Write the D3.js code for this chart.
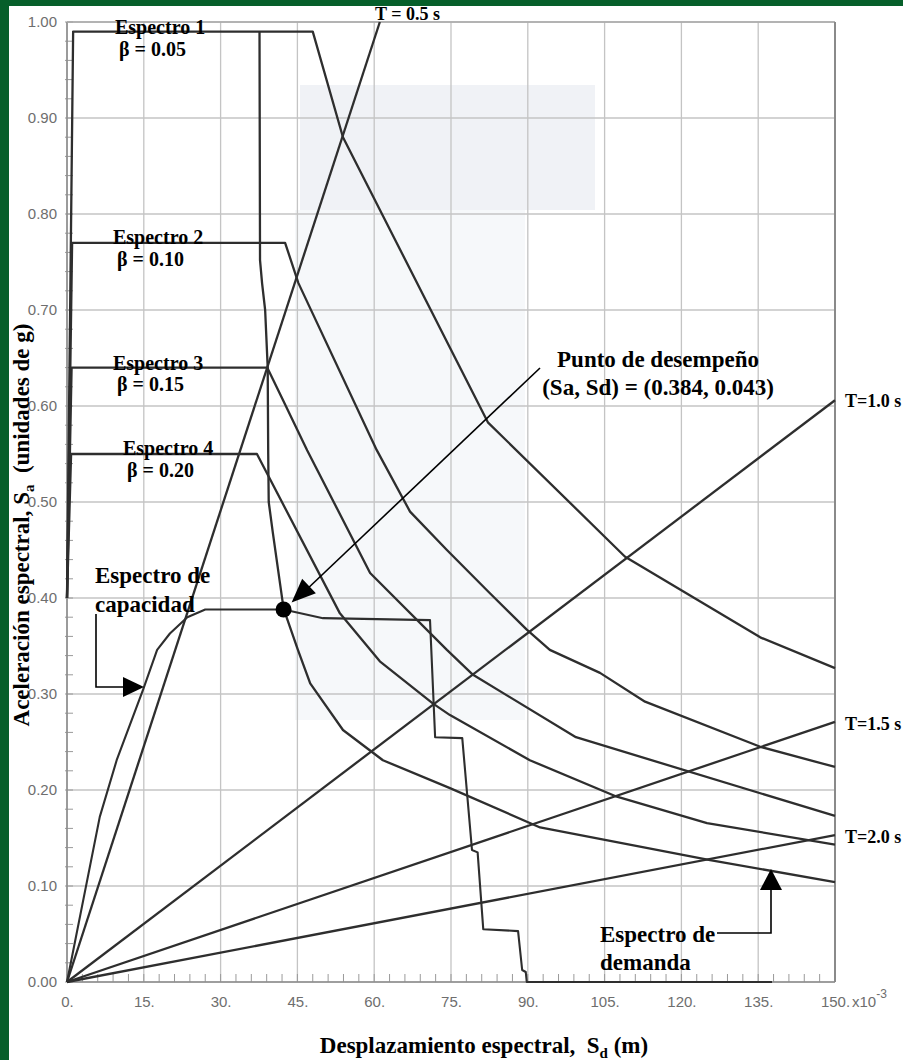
<!DOCTYPE html>
<html><head><meta charset="utf-8">
<script src="https://cdn.jsdelivr.net/npm/d3@7"></script>
<style>html,body{margin:0;padding:0;background:#fff;}svg{display:block;}</style>
</head><body>
<script>
// ---------- data ----------
const xTicks = [0, 15, 30, 45, 60, 75, 90, 105, 120, 135, 150];
const xTickLabels = ["0.", "15.", "30.", "45.", "60.", "75.", "90.", "105.", "120.", "135.", "150."];
const yTicks = [0, 0.1, 0.2, 0.3, 0.4, 0.5, 0.6, 0.7, 0.8, 0.9, 1.0];
const yTickLabels = ["0.00", "0.10", "0.20", "0.30", "0.40", "0.50", "0.60", "0.70", "0.80", "0.90", "1.00"];

// Demand spectra (Sd in 1e-3 m, Sa in g)
const espectro1 = [[0,0.40],[1.2,0.99],[48,0.99],[53.9,0.88],[82.2,0.583],[109,0.443],[135.4,0.359],[150,0.327]];
const espectro2 = [[0,0.40],[1.0,0.77],[42.6,0.77],[45.2,0.728],[60.5,0.554],[67,0.49],[74.2,0.45],[82.6,0.405],[89.8,0.367],[94.3,0.346],[104.1,0.322],[112.9,0.292],[135.4,0.245],[150,0.224]];
const espectro3 = [[0,0.40],[0.9,0.64],[39.1,0.64],[42.2,0.606],[46.9,0.554],[59.2,0.426],[74.2,0.346],[79.3,0.32],[99.4,0.255],[150,0.173]];
const espectro4 = [[0,0.40],[0.8,0.55],[37.1,0.55],[53.3,0.384],[61.1,0.334],[71.5,0.29],[74.8,0.278],[90.4,0.231],[107.4,0.193],[125,0.1656],[150,0.143]];
const espectroReducido = [[37.6,0.99],[37.7,0.752],[38.1,0.728],[38.7,0.70],[39.2,0.64],[39.3,0.55],[39.4,0.50],[40.2,0.468],[42.3,0.389],[45.1,0.346],[47.5,0.311],[53.9,0.2625],[61.7,0.231],[74.8,0.202],[92.4,0.161],[125.6,0.127],[150,0.104]];

// Capacity spectrum
const capacidad = [[0,0],[6.4,0.172],[9.7,0.231],[14.9,0.305],[17.6,0.346],[20.1,0.363],[23.5,0.38],[27,0.388],[42.3,0.388],[50,0.379],[70.9,0.377],[71.9,0.255],[77.2,0.254],[79.1,0.1375],[80.2,0.135],[81.3,0.055],[88.1,0.053],[88.9,0.0125],[89.6,0.0104],[89.8,0],[137.7,0]];

// Constant-period lines (from origin to end point)
const periodLabels = ["T = 0.5 s", "T=1.0 s", "T=1.5 s", "T=2.0 s"];
const periodEndX = [61.1, 150, 150, 150];
const periodEndY = [1.0, 0.606, 0.271, 0.153];

// Performance point
const puntoSd = 42.3, puntoSa = 0.388;

// ---------- drawing ----------
const W = 903, H = 1060;
const svg = d3.select("body").append("svg").attr("width", W).attr("height", H);
svg.append("rect").attr("width", W).attr("height", H).attr("fill", "#ffffff");
svg.append("rect").attr("x", 0).attr("y", 0).attr("width", W).attr("height", 6).attr("fill", "#065f2a");
svg.append("rect").attr("x", 0).attr("y", 0).attr("width", 9).attr("height", H).attr("fill", "#065f2a");

const x = d3.scaleLinear().domain([0, 150]).range([67, 835]);
const y = d3.scaleLinear().domain([0, 1]).range([982, 22]);

// faint scan shading
svg.append("rect").attr("x", 300).attr("y", 85).attr("width", 295).attr("height", 125).attr("fill", "#f0f2f6");
svg.append("rect").attr("x", 295).attr("y", 210).attr("width", 230).attr("height", 510).attr("fill", "#f6f8fa");

// grid
const g = svg.append("g");
g.selectAll(".vg").data(xTicks).join("line")
  .attr("x1", d => x(d)).attr("x2", d => x(d)).attr("y1", y(0)).attr("y2", y(1))
  .attr("stroke", "#c4c4c4").attr("stroke-width", 1.3);
g.selectAll(".hg").data(yTicks).join("line")
  .attr("x1", x(0)).attr("x2", x(150)).attr("y1", d => y(d)).attr("y2", d => y(d))
  .attr("stroke", "#c4c4c4").attr("stroke-width", 1.3);

// minor ticks
const yMinor = d3.range(0, 51).map(i => i * 0.02);
g.selectAll(".ym").data(yMinor).join("line")
  .attr("x1", x(0) - 2).attr("x2", x(0) + 6).attr("y1", d => y(d)).attr("y2", d => y(d))
  .attr("stroke", "#9a9a9a").attr("stroke-width", 1);
const xMinor = d3.range(0, 51).map(i => i * 3);
g.selectAll(".xm").data(xMinor).join("line")
  .attr("x1", d => x(d)).attr("x2", d => x(d)).attr("y1", y(0)).attr("y2", y(0) - 8)
  .attr("stroke", "#9a9a9a").attr("stroke-width", 1);

// frame
g.append("line").attr("x1", x(0)).attr("x2", x(0)).attr("y1", y(0)).attr("y2", y(1)).attr("stroke", "#8c8c8c").attr("stroke-width", 1.6);
g.append("line").attr("x1", x(0)).attr("x2", x(150)).attr("y1", y(0)).attr("y2", y(0)).attr("stroke", "#8c8c8c").attr("stroke-width", 1.6);
g.append("line").attr("x1", x(0)).attr("x2", x(150)).attr("y1", y(1)).attr("y2", y(1)).attr("stroke", "#a8a8a8").attr("stroke-width", 1.4);
g.append("line").attr("x1", x(150)).attr("x2", x(150)).attr("y1", y(0)).attr("y2", y(1)).attr("stroke", "#8a8a8a").attr("stroke-width", 2);

// axes (labels)
const tickFont = "'Liberation Sans', Arial, sans-serif";
const ax = svg.append("g").attr("transform", `translate(0,${y(0)})`)
  .call(d3.axisBottom(x).tickValues(xTicks).tickFormat((d, i) => xTickLabels[i]).tickSize(0).tickPadding(14));
const ay = svg.append("g").attr("transform", `translate(${x(0)},0)`)
  .call(d3.axisLeft(y).tickValues(yTicks).tickFormat((d, i) => yTickLabels[i]).tickSize(0).tickPadding(10));
[ax, ay].forEach(a => {
  a.select(".domain").remove();
  a.selectAll("text").attr("font-family", tickFont).attr("font-size", 15).attr("fill", "#6e6e6e");
});
const xe = svg.append("text").attr("x", 852).attr("y", 1007).attr("font-family", tickFont).attr("font-size", 15).attr("fill", "#6e6e6e").text("x10");
xe.append("tspan").attr("dy", -9).attr("font-size", 12).text("-3");

// curves
const line = d3.line().x(d => x(d[0])).y(d => y(d[1]));
const curveStyle = sel => sel.attr("fill", "none").attr("stroke", "#2e2e2e").attr("stroke-width", 2.3).attr("stroke-linejoin", "round");

// period lines
periodLabels.forEach((lab, i) => {
  svg.append("path").datum([[0, 0], [periodEndX[i], periodEndY[i]]]).attr("d", line).call(curveStyle);
});
[espectro1, espectro2, espectro3, espectro4, espectroReducido].forEach(s => {
  svg.append("path").datum(s).attr("d", line).call(curveStyle);
});
svg.append("path").datum(capacidad).attr("d", line).call(curveStyle).attr("stroke-width", 2.1);

// performance point
svg.append("circle").attr("cx", x(puntoSd)).attr("cy", y(puntoSa)).attr("r", 8).attr("fill", "#000");

// ---------- annotations ----------
const serif = "'Liberation Serif', 'Times New Roman', serif";
function label(xp, yp, txt, size, anchor) {
  return svg.append("text").attr("x", xp).attr("y", yp).attr("font-family", serif).attr("font-weight", "bold")
    .attr("font-size", size).attr("fill", "#000").attr("text-anchor", anchor || "start")
    .style("white-space", "pre").text(txt);
}
label(115, 34, "Espectro 1", 20);
label(119, 56, "β = 0.05", 20);
label(113, 244, "Espectro 2", 20);
label(117, 266, "β = 0.10", 20);
label(113, 370, "Espectro 3", 20);
label(117, 391, "β = 0.15", 20);
label(123, 455, "Espectro 4", 20);
label(127, 477, "β = 0.20", 20);

label(375, 20, periodLabels[0], 18);
label(845, 407, periodLabels[1], 18);
label(845, 730, periodLabels[2], 18);
label(845, 843, periodLabels[3], 18);

label(95, 583, "Espectro de", 23);
label(95, 612, "capacidad", 23);
label(658, 367, "Punto de desempeño", 23, "middle");
label(658, 395, "(Sa, Sd) = (0.384, 0.043)", 23, "middle");
label(600, 942, "Espectro de", 23);
label(600, 970, "demanda", 23);

// arrows
const arrowStroke = sel => sel.attr("fill", "none").attr("stroke", "#000").attr("stroke-width", 1.6);
svg.append("path").attr("d", "M96,614 L96,687 L126,687").call(arrowStroke);
svg.append("path").attr("d", "M123,677 L123,697 L144,687 Z").attr("fill", "#000");

svg.append("path").attr("d", "M717,933 L771,933 L771,886").call(arrowStroke);
svg.append("path").attr("d", "M760,890 L782,890 L771,869 Z").attr("fill", "#000");

// performance arrow
const tip = [x(puntoSd) + 8, y(puntoSa) - 7];
const start = [540, 368];
svg.append("line").attr("x1", start[0]).attr("y1", start[1]).attr("x2", tip[0] + 14).attr("y2", tip[1] - 12).call(arrowStroke);
{
  const ang = Math.atan2(start[1] - tip[1], start[0] - tip[0]);
  const L = 24, Wd = 10;
  const bx = tip[0] + L * Math.cos(ang), by = tip[1] + L * Math.sin(ang);
  const p1 = [bx + Wd * Math.sin(ang), by - Wd * Math.cos(ang)];
  const p2 = [bx - Wd * Math.sin(ang), by + Wd * Math.cos(ang)];
  svg.append("path").attr("d", `M${tip[0]},${tip[1]} L${p1[0]},${p1[1]} L${p2[0]},${p2[1]} Z`).attr("fill", "#000");
}

// axis titles
const xt = svg.append("text").attr("x", 484).attr("y", 1053).attr("text-anchor", "middle")
  .attr("font-family", serif).attr("font-weight", "bold").attr("font-size", 23).style("white-space", "pre");
xt.append("tspan").text("Desplazamiento espectral,  S");
xt.append("tspan").attr("font-size", 15).attr("dy", 5).text("d");
xt.append("tspan").attr("dy", -5).text(" (m)");

const yt = svg.append("text").attr("transform", "translate(29,525) rotate(-90)").attr("text-anchor", "middle")
  .attr("font-family", serif).attr("font-weight", "bold").attr("font-size", 23).style("white-space", "pre");
yt.append("tspan").text("Aceleración espectral, S");
yt.append("tspan").attr("font-size", 15).attr("dy", 5).text("a");
yt.append("tspan").attr("dy", -5).text("  (unidades de g)");
</script>
</body></html>
